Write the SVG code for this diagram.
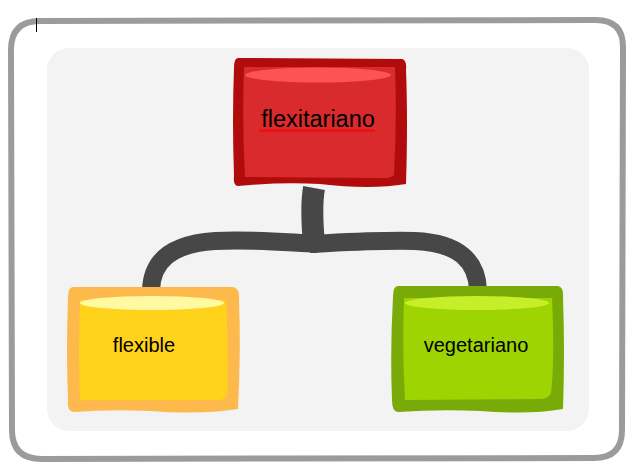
<svg xmlns="http://www.w3.org/2000/svg" width="638" height="476" viewBox="0 0 638 476">
<style>
.lbl{font-family:"Liberation Sans",Arial,sans-serif;fill:#000;text-anchor:middle}
.conn{fill:none;stroke:#474747;stroke-linecap:butt}
</style>
<rect x="0" y="0" width="638" height="476" fill="#ffffff"/>
<g id="frame">
<path d="M40 21 L596 20 Q623 20 623 47 L622 430 Q622 458 594 458 L42 459 Q12 459 12 430 L11 50 Q11 21 40 21 Z" fill="#ffffff" stroke="#9b9b9b" stroke-width="6"/>
<rect x="47" y="48" width="542" height="383" rx="22" fill="#f3f3f3"/>
<line x1="36.5" y1="18" x2="36.5" y2="32" stroke="#000" stroke-width="1"/>
</g>
<g id="connectors">
<path class="conn" d="M314 188 C311 205 312 222 314 244" stroke-width="22"/>
<path class="conn" d="M318 244 C280 242 250 239 215 241 C170 244 152 262 151 290" stroke-width="18"/>
<path class="conn" d="M310 244 C350 242 380 240 415 241 C460 243 477 262 478 290" stroke-width="18"/>
</g>
<g id="node-flexitariano">
<path d="M238 58 L402 59 Q407 60 406 70 Q408 120 406 184 Q370 190 320 184 Q280 182 238 186 Q233 186 234 176 Q232 120 234 68 Q234 58 238 58 Z" fill="#b10c0c"/>
<path d="M244 67 L395 67 Q397 120 394 175 Q389 179 380 178 L245 177 Q242 120 244 67 Z" fill="#d92b2e"/>
<ellipse cx="318" cy="75" rx="73" ry="7.5" fill="#fd5355"/>
<text class="lbl" x="318" y="127" font-size="23.5">flexitariano</text>
<path d="M259 131.5 l2 -1.6 l2 1.6 l2 -1.6 l2 1.6 l2 -1.6 l2 1.6 l2 -1.6 l2 1.6 l2 -1.6 l2 1.6 l2 -1.6 l2 1.6 l2 -1.6 l2 1.6 l2 -1.6 l2 1.6 l2 -1.6 l2 1.6 l2 -1.6 l2 1.6 l2 -1.6 l2 1.6 l2 -1.6 l2 1.6 l2 -1.6 l2 1.6 l2 -1.6 l2 1.6 l2 -1.6 l2 1.6 l2 -1.6 l2 1.6 l2 -1.6 l2 1.6 l2 -1.6 l2 1.6 l2 -1.6 l2 1.6 l2 -1.6 l2 1.6 l2 -1.6 l2 1.6 l2 -1.6 l2 1.6 l2 -1.6 l2 1.6 l2 -1.6 l2 1.6 l2 -1.6 l2 1.6 l2 -1.6 l2 1.6 l2 -1.6 l2 1.6 l2 -1.6 l2 1.6 l2 -1.6 l2 1.6" fill="none" stroke="#ff0000" stroke-width="1.3"/>
</g>
<g id="node-flexible">
<path d="M73 287 L233 287 Q240 288 239 300 Q241 350 238 409 Q200 415 150 411 Q110 409 74 412 Q67 412 68 400 Q66 350 68 298 Q68 287 73 287 Z" fill="#feb94d"/>
<path d="M80 300 L226 300 Q229 360 227 396 Q224 400 218 400 L80 400 Q78 350 80 300 Z" fill="#ffd21b"/>
<ellipse cx="152" cy="303" rx="72" ry="7" fill="#fffaa2"/>
<text class="lbl" x="144" y="352" font-size="20">flexible</text>
</g>
<g id="node-vegetariano">
<path d="M398 286 L558 286 Q564 287 563 298 Q565 350 563 409 Q530 415 480 411 Q440 409 398 412 Q392 412 392 400 Q390 350 393 297 Q393 286 398 286 Z" fill="#78ab07"/>
<path d="M404 298 L552 298 Q555 360 551 393 Q548 399 540 399 L405 400 Q402 350 404 298 Z" fill="#9ed401"/>
<ellipse cx="477" cy="303" rx="72" ry="7" fill="#c6ef2a"/>
<text class="lbl" x="476" y="352" font-size="20">vegetariano</text>
</g>
</svg>
